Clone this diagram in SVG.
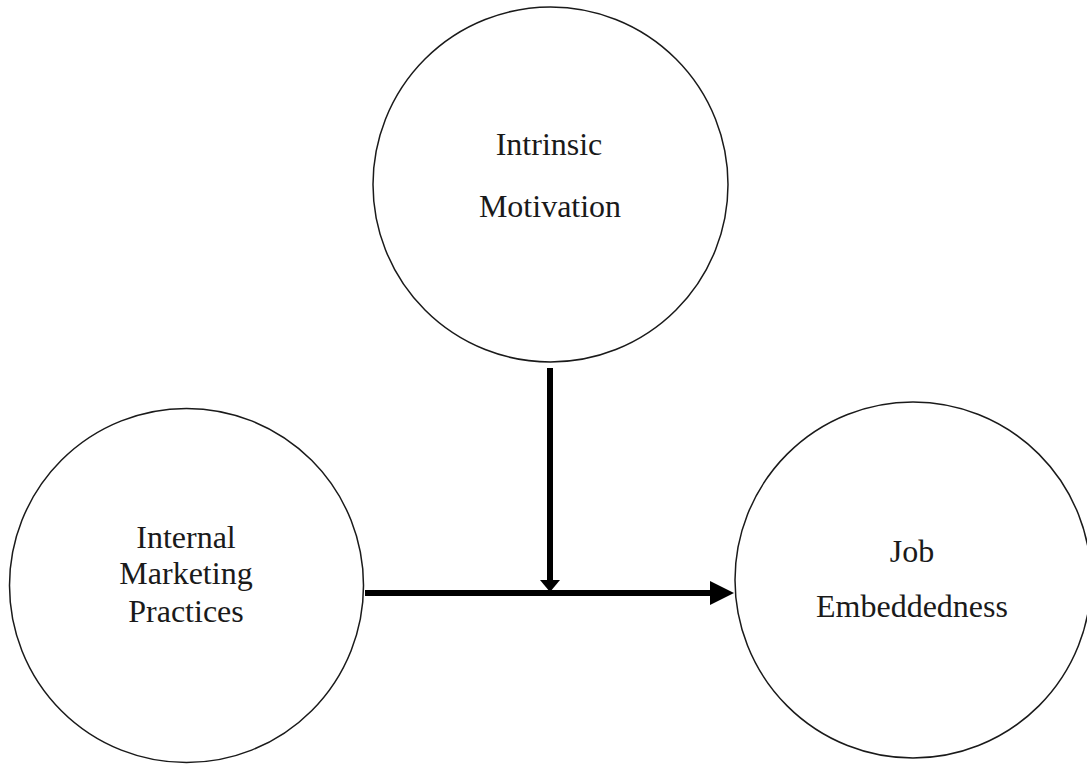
<svg xmlns="http://www.w3.org/2000/svg" width="1087" height="764" viewBox="0 0 1087 764">
  <defs>
    <style>
      .node circle { fill: #ffffff; stroke: #1a1a1a; stroke-width: 1.5; }
      .node text { font-family: "Liberation Serif", "Times New Roman", serif; font-size: 32px; fill: #1a1a1a; text-anchor: middle; }
      .edge { stroke: #000000; fill: none; }
    </style>
    <marker id="head-large" viewBox="0 0 24 24" refX="0" refY="12" markerWidth="24" markerHeight="24" markerUnits="userSpaceOnUse" orient="auto">
      <path d="M0,0 L24,12 L0,24 Z" fill="#000000"/>
    </marker>
    <marker id="head-small" viewBox="0 0 12 20" refX="0" refY="10" markerWidth="12" markerHeight="20" markerUnits="userSpaceOnUse" orient="auto">
      <path d="M0,0 L12,10 L0,20 Z" fill="#000000"/>
    </marker>
  </defs>
  <rect width="1087" height="764" fill="#ffffff"/>

  <g id="node-intrinsic-motivation" class="node">
    <circle cx="550.5" cy="184.5" r="177.5"/>
    <text x="549" y="155">Intrinsic</text>
    <text x="550" y="217">Motivation</text>
  </g>

  <g id="node-internal-marketing" class="node">
    <circle cx="186.5" cy="585.5" r="177"/>
    <text x="186" y="548">Internal</text>
    <text x="186" y="584">Marketing</text>
    <text x="186" y="622">Practices</text>
  </g>

  <g id="node-job-embeddedness" class="node">
    <circle cx="913" cy="580" r="178"/>
    <text x="912" y="562">Job</text>
    <text x="912" y="617">Embeddedness</text>
  </g>

  <g id="connectors">
    <line class="edge" x1="365" y1="593" x2="710" y2="593" stroke-width="6" marker-end="url(#head-large)"/>
    <line class="edge" x1="550" y1="368" x2="550" y2="580" stroke-width="6" marker-end="url(#head-small)"/>
  </g>
</svg>
